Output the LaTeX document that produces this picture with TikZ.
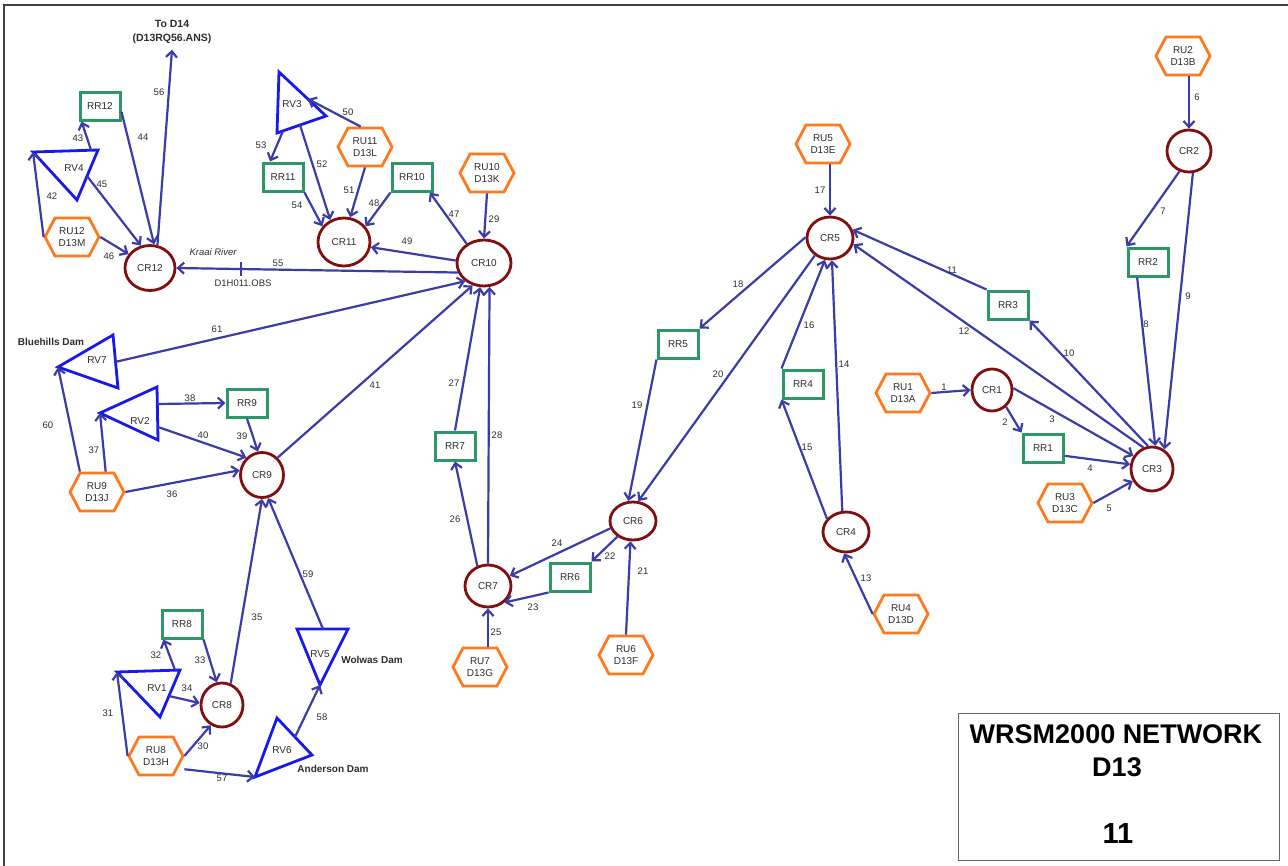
\documentclass[tikz,border=0pt]{standalone}
\usepackage{fontspec}
\setmainfont{Liberation Sans}
\usetikzlibrary{arrows.meta,shapes.geometric}
\definecolor{connc}{RGB}{60,60,168}
\definecolor{crred}{RGB}{130,15,15}
\definecolor{rrgreen}{RGB}{45,152,102}
\definecolor{ruorange}{RGB}{255,122,30}
\definecolor{rvblue}{RGB}{25,25,235}
\definecolor{txt}{RGB}{45,45,45}
\tikzset{
 cr/.style={ellipse, draw=crred, line width=2.8pt, minimum width=46pt, minimum height=42pt, inner sep=0pt, font=\fontsize{10}{12}\selectfont, text=txt},
 rr/.style={rectangle, draw=rrgreen, line width=3pt, minimum width=40pt, minimum height=28pt, inner sep=0pt, font=\fontsize{10}{12}\selectfont, text=txt},
 hexbox/.style={rectangle, minimum width=54pt, minimum height=38pt, inner sep=0pt, outer sep=1.4pt, align=center, font=\fontsize{10}{12.5}\selectfont, text=txt},
 hexline/.style={draw=ruorange, line width=2.8pt},
 rvline/.style={draw=rvblue, line width=2.8pt},
 rvlbl/.style={inner sep=0pt, font=\fontsize{10}{12}\selectfont, text=txt},
 conn/.style={draw=connc, line width=2.2pt, -{Straight Barb[length=6pt,width=11pt]}},
 elab/.style={inner sep=0pt, font=\fontsize{9.5}{11}\selectfont, text=txt},
 damlbl/.style={inner sep=0pt, font=\bfseries\fontsize{10}{12}\selectfont, text=txt},
}
\newcommand\hexnode[4]{%
  \node[hexbox] (#1) at (#2,#3) {#4};
  \draw[hexline] (#2-27,#3) -- (#2-17,#3-19) -- (#2+17,#3-19) -- (#2+27,#3) -- (#2+17,#3+19) -- (#2-17,#3+19) -- cycle;
}
\begin{document}
\begin{tikzpicture}[x=1pt,y=-1pt]
\useasboundingbox (0,0) rectangle (1288,865);
\fill[white] (0,0) rectangle (1288,865);
\draw[line width=1.5pt, black!75] (4,5) rectangle (1320,900);

% ---------- circles (CR) ----------
\node[cr, minimum width=50pt, minimum height=45pt] (CR12) at (150,268) {CR12};
\node[cr, minimum width=52pt, minimum height=48pt] (CR11) at (344,242) {CR11};
\node[cr, minimum width=54pt, minimum height=46pt] (CR10) at (484,263) {CR10};
\node[cr, minimum width=43pt, minimum height=45pt] (CR9) at (262,475) {CR9};
\node[cr, minimum width=42pt, minimum height=44pt] (CR8) at (222,705) {CR8};
\node[cr, minimum width=46pt, minimum height=42pt] (CR7) at (488,586) {CR7};
\node[cr, minimum width=46pt, minimum height=38pt] (CR6) at (633,521) {CR6};
\node[cr, minimum width=46pt, minimum height=42pt] (CR5) at (830,238) {CR5};
\node[cr, minimum width=46pt, minimum height=40pt] (CR4) at (846,532) {CR4};
\node[cr, minimum width=42pt, minimum height=44pt] (CR3) at (1152,469) {CR3};
\node[cr, minimum width=44pt, minimum height=42pt] (CR2) at (1189,151) {CR2};
\node[cr, minimum width=40pt, minimum height=42pt] (CR1) at (992,390) {CR1};

% ---------- rectangles (RR) ----------
\node[rr] (RR12) at (100,106) {RR12};
\node[rr] (RR11) at (283,177) {RR11};
\node[rr] (RR10) at (412,177) {RR10};
\node[rr] (RR9) at (247,403) {RR9};
\node[rr] (RR8) at (182,624) {RR8};
\node[rr] (RR7) at (455,446) {RR7};
\node[rr] (RR6) at (570,577) {RR6};
\node[rr] (RR5) at (678,344) {RR5};
\node[rr] (RR4) at (803,384) {RR4};
\node[rr] (RR3) at (1008,305) {RR3};
\node[rr] (RR2) at (1148,262) {RR2};
\node[rr] (RR1) at (1043,448) {RR1};

% ---------- hexagons (RU) ----------
\hexnode{RU12}{72}{237}{RU12\\D13M}
\hexnode{RU11}{365}{147}{RU11\\D13L}
\hexnode{RU10}{487}{173}{RU10\\D13K}
\hexnode{RU9}{97}{492}{RU9\\D13J}
\hexnode{RU8}{156}{756}{RU8\\D13H}
\hexnode{RU7}{480}{667}{RU7\\D13G}
\hexnode{RU6}{626}{655}{RU6\\D13F}
\hexnode{RU5}{823}{144}{RU5\\D13E}
\hexnode{RU2}{1183}{56}{RU2\\D13B}
\hexnode{RU1}{903}{393}{RU1\\D13A}
\hexnode{RU3}{1065}{503}{RU3\\D13C}
\hexnode{RU4}{901}{614}{RU4\\D13D}

% ---------- triangles (RV) ----------
\draw[rvline] (33,152) coordinate (RV4a) -- (98,150) -- (77,200) -- cycle;
\coordinate (RV4-43) at (91,150);
\coordinate (RV4-45) at (87,176);
\node[rvlbl] (RV4) at (74,168) {RV4};

\draw[rvline] (279,72) -- (326,116) -- (277,133) -- cycle;
\coordinate (RV3-50) at (308,99);
\coordinate (RV3-52) at (300,125);
\coordinate (RV3-53) at (283,131);
\node[rvlbl] (RV3) at (292,104) {RV3};

\draw[rvline] (58,367) coordinate (RV7a) -- (113,335) -- (118,388) -- cycle;
\coordinate (RV7-61) at (115,362);
\node[rvlbl] (RV7) at (97,360) {RV7};

\draw[rvline] (100,413) coordinate (RV2a) -- (157,387) -- (158,440) -- cycle;
\coordinate (RV2-38) at (157,404);
\coordinate (RV2-40) at (158,427);
\node[rvlbl] (RV2) at (140,421) {RV2};

\draw[rvline] (117,672) coordinate (RV1a) -- (180,670) -- (160,717) -- cycle;
\coordinate (RV1-32) at (175,670);
\coordinate (RV1-34) at (169,696);
\node[rvlbl] (RV1) at (157,688) {RV1};

\draw[rvline] (297,629) -- (348,629) -- (320,685) coordinate (RV5c) -- cycle;
\coordinate (RV5-59) at (323,629);
\node[rvlbl] (RV5) at (320,654) {RV5};

\draw[rvline] (255,777) coordinate (RV6a) -- (277,718) -- (312,755) -- cycle;
\coordinate (RV6-58) at (295,737);
\node[rvlbl] (RV6) at (282,750) {RV6};

% ---------- other texts ----------
\node[damlbl, align=center, inner sep=2pt, outer sep=4pt, font=\bfseries\fontsize{10.5}{14}\selectfont] (D14) at (172,32) {To D14\\(D13RQ56.ANS)};
\node[damlbl] (blue) at (51,342) {Bluehills Dam};
\node[damlbl] (wolwas) at (372,660) {Wolwas Dam};
\node[damlbl] (anderson) at (333,769) {Anderson Dam};

% ---------- connectors ----------
% CR12 group
\draw[conn] (RV4-43) -- (RR12.-140);
\draw[conn] (RR12.-15) -- (CR12.80);
\draw[conn] (RU12.west) -- (RV4a);
\draw[conn] (RV4-45) -- (CR12.112);
\draw[conn] (RU12.east) -- (CR12.147);
\draw[conn] (CR12.72) -- (D14.south);
% CR11 / CR10 group
\draw[conn] (RU11.102) -- (RV3-50);
\draw[conn] (RV3-53) -- (RR11.130);
\draw[conn] (RV3-52) -- (CR11.122);
\draw[conn] (RU11.south) -- (CR11.76);
\draw[conn] (RR10.south west) -- (CR11.36);
\draw[conn] (RR11.south east) -- (CR11.144);
\draw[conn] (CR10.132) -- (RR10.-41);
\draw[conn] (RU10.south) -- (CR10.north);
\draw[conn] (CR10.175) -- (CR11.-11);
\draw[conn] (CR10.200) -- coordinate[pos=0.77] (obs) (CR12.east);
\draw[connc, line width=1.6pt] ([yshift=7pt]obs) -- ([yshift=-7pt]obs);
\node[elab, font=\itshape\fontsize{9.5}{11}\selectfont] (kraai) at (213,252) {Kraai River};
\node[elab] (d1h) at (243,283) {D1H011.OBS};
\draw[conn] (RV7-61) -- (CR10.224);
\draw[conn] (CR9.48) -- (CR10.243);
\draw[conn] (RR7.north) -- (CR10.261);
\draw[conn] (CR7.north) -- (CR10.283);
% CR9 group
\draw[conn] (RU9.130) -- (RV7a);
\draw[conn] (RU9.67) -- (RV2a);
\draw[conn] (RV2-38) -- (RR9.west);
\draw[conn] (RV2-40) -- (CR9.132);
\draw[conn] (RR9.south) -- (CR9.100);
\draw[conn] (RU9.east) -- (CR9.168);
% CR8 group
\draw[conn] (RV1-32) -- (RR8.-140);
\draw[conn] (RR8.south east) -- (CR8.103);
\draw[conn] (RV1-34) -- (CR8.175);
\draw[conn] (RU8.west) -- (RV1a);
\draw[conn] (RU8.east) -- (CR8.-119);
\draw[conn] (RU8.-25) -- (RV6a);
\draw[conn] (RV6-58) -- (RV5c);
\draw[conn] (CR8.68) -- (CR9.-90);
\draw[conn] (RV5-59) -- (CR9.-75);
% CR7 / CR6 group
\draw[conn] (CR7.118) -- (RR7.south);
\draw[conn] (RR5.south west) -- (CR6.103);
\draw[conn] (CR5.229) -- (CR6.75);
\draw[conn] (RU6.north) -- (CR6.-97);
\draw[conn] (CR6.225) -- (RR6.north east);
\draw[conn] (RR6.south west) -- (CR7.-45);
\draw[conn] (CR6.198) -- (CR7.25);
\draw[conn] (RU7.north -| CR7) -- (CR7.south);
% CR5 group
\draw[conn] (RU5.south -| CR5) -- (CR5.north);
\draw[conn] (CR5.178) -- (RR5.north east);
\draw[conn] (RR4.north west) -- (CR5.-103);
\draw[conn] (CR4.100) -- (CR5.-85);
\draw[conn] (CR4.145) -- (RR4.south west);
\draw[conn] (RU4.west) -- (CR4.-95);
\draw[conn] (RR3.north west) -- (CR5.20);
\draw[conn] (CR3.112) -- (CR5.-15);
\draw[conn] (CR3.100) -- (RR3.south east);
% CR3 group
\draw[conn] (RU2.south -| CR2) -- (CR2.north);
\draw[conn] (CR2.245) -- (RR2.north west);
\draw[conn] (RR2.-125) -- (CR3.82);
\draw[conn] (CR2.-80) -- (CR3.58);
\draw[conn] (RU1.east) -- (CR1.west);
\draw[conn] (CR1.-50) -- (RR1.north west);
\draw[conn] (CR1.5) -- (CR3.145);
\draw[conn] (RR1.-20) -- (CR3.168);
\draw[conn] (RU3.east) -- (CR3.212);

% ---------- connector numbers ----------
\foreach \t/\x/\y in {1/944/387, 2/1005/422, 3/1052/419, 4/1090/468, 5/1109/508,
  6/1197/97, 7/1163/211, 8/1146/324, 9/1188/296, 10/1069/353, 11/952/270,
  12/964/331, 13/866/578, 14/844/364, 15/807/447, 16/809/325, 17/820/190,
  18/738/284, 19/637/405, 20/718/374, 21/643/571, 22/610/556, 23/533/607,
  24/557/543, 25/496/632, 26/455/519, 27/454/383, 28/497/435, 29/494/219,
  30/203/746, 31/108/713, 32/156/655, 33/200/660, 34/187/688, 35/257/617,
  36/172/494, 37/94/450, 38/190/398, 39/242/436, 40/203/435, 41/375/385,
  42/52/196, 43/78/138, 44/143/137, 45/102/184, 46/109/256, 47/454/214,
  48/374/203, 49/407/241, 50/348/112, 51/349/190, 52/322/164, 53/261/145,
  54/297/205, 55/278/263, 56/159/92, 57/222/778, 58/322/717, 59/308/574,
  60/48/425, 61/217/329}
  \node[elab] (lab\t) at (\x,\y) {\t};

% ---------- title box ----------
\node[draw=black!60, line width=1pt, minimum width=321pt, minimum height=147pt, inner sep=0pt] (titlebox) at (1118.5,786.5) {};
\node[inner sep=0pt, font=\bfseries\fontsize{27}{30}\selectfont] (title1) at (1116,734) {WRSM2000 NETWORK};
\node[inner sep=0pt, font=\bfseries\fontsize{27}{30}\selectfont] (title2) at (1117,767) {D13};
\node[inner sep=0pt, font=\bfseries\fontsize{29}{32}\selectfont] (title3) at (1118,834) {11};
\end{tikzpicture}
\end{document}
